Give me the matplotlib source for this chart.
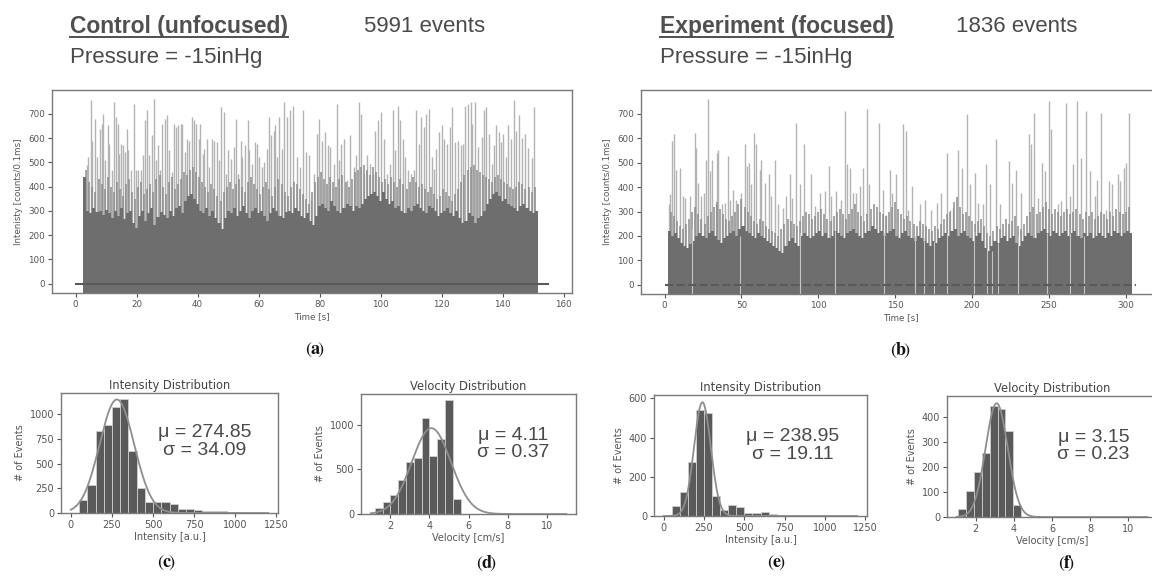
import numpy as np
import matplotlib
matplotlib.use("Agg")
import matplotlib.pyplot as plt
from matplotlib.lines import Line2D

plt.rcParams["font.family"] = ["DejaVu Sans"]
plt.rcParams["mathtext.fontset"] = "stix"

# ---------------- data: (a) control time trace ----------------
base_a_t = list(range(3, 152))
base_a_h = [440, 300, 290, 310, 295, 300, 285, 305,
            290, 270, 300, 280, 310, 265, 290, 300, 250, 230,
            280, 300, 260, 290, 310, 240, 275, 295, 285, 270,
            300, 280, 310, 320, 290, 340, 360, 370, 350, 330,
            300, 290, 310, 280, 300, 270, 250, 225, 270, 300,
            290, 310, 280, 300, 320, 290, 270, 300, 310, 290,
            300, 280, 260, 290, 310, 300, 280, 270, 295, 300,
            290, 310, 300, 280, 270, 290, 260, 240, 280, 320,
            330, 310, 300, 340, 320, 300, 290, 310, 330, 320,
            300, 320, 310, 330, 350, 360, 370, 380, 360, 340,
            380, 350, 330, 340, 310, 320, 300, 290, 310, 300,
            320, 330, 310, 300, 290, 320, 310, 300, 280, 290,
            300, 310, 290, 280, 300, 270, 250, 260, 290, 280,
            250, 270, 280, 300, 330, 350, 370, 380, 360, 340,
            350, 330, 320, 310, 300, 320, 330, 310, 300, 290, 300]
band_a_t = [3.5 + i for i in range(148)]
band_a_h = [470, 420, 400, 380, 430, 410, 390, 440, 400, 380,
            420, 390, 360, 410, 430, 380, 350, 400, 420, 370,
            390, 410, 380, 430, 450, 400, 370, 420, 440, 390,
            410, 430, 460, 450, 470, 480, 460, 440, 420, 400,
            380, 410, 390, 360, 340, 380, 400, 420, 390, 410,
            430, 400, 380, 420, 440, 410, 390, 370, 400, 420,
            390, 360, 400, 430, 410, 380, 360, 400, 420, 410,
            390, 370, 350, 330, 380, 420, 440, 460, 430, 410,
            440, 420, 400, 430, 450, 420, 400, 430, 460, 470,
            480, 490, 470, 450, 480, 460, 440, 420, 430, 410,
            440, 420, 400, 430, 410, 390, 420, 440, 420, 400,
            410, 390, 380, 400, 370, 350, 360, 390, 380, 360,
            340, 370, 390, 420, 450, 470, 480, 490, 470, 460,
            450, 440, 430, 420, 440, 450, 430, 420, 410, 400,
            390, 400, 420, 410, 390, 400, 380, 400]
spike_a_t = [3.6, 4.1, 5.0, 5.5, 6.3, 7.1, 8.0, 8.5, 9.1, 9.6, 10.5, 11.0, 11.8, 12.7, 13.1,
             13.8, 14.3, 14.9, 15.6, 16.2, 16.7, 17.3, 18.1, 19.0, 19.7, 20.6, 21.4, 22.1, 22.7,
             23.4, 24.1, 24.9, 25.7, 26.2, 27.1, 27.8, 28.4, 29.3, 30.1, 30.7, 31.5, 32.3, 33.0,
             33.7, 34.5, 35.0, 35.7, 36.4, 37.2, 38.1, 38.7, 39.5, 40.3, 40.9, 41.6, 42.2, 43.0,
             43.8, 44.6, 45.5, 46.3, 47.0, 47.7, 48.5, 49.2, 50.1, 50.9, 51.8, 52.5, 53.2, 54.1,
             54.7, 55.6, 56.4, 57.0, 57.8, 58.7, 59.4, 60.2, 61.1, 61.8, 62.7, 63.5, 64.1, 64.9,
             65.4, 66.1, 66.8, 67.6, 68.2,
             69.3, 70.3, 71.4, 72.5, 73.6, 74.7, 75.5, 76.4, 77.2, 78.3, 79.1, 79.9, 80.8, 81.8,
             82.7, 83.5, 84.6, 85.7, 86.4, 87.1, 87.9, 89.0, 90.1, 91.2, 91.9, 93.0, 93.7, 94.4,
             95.5, 96.6, 97.4, 98.3, 99.1, 100.2, 101.1, 102.1, 103.0, 104.0, 104.8, 105.7, 106.5,
             107.2, 108.1, 109.0, 109.8, 110.9, 111.6, 112.5, 113.4, 114.1, 114.9, 115.8, 116.7,
             117.4, 118.2, 119.1, 120.0, 120.8, 121.8, 122.6, 123.5, 124.3, 125.4, 126.2, 127.0,
             127.8, 128.7, 129.5, 130.0, 130.9, 132.0, 133.1, 134.0, 134.6, 135.5, 136.4, 137.1,
             137.9, 138.8, 139.4, 140.1, 141.0, 141.9, 142.9, 143.8, 144.5, 145.4, 146.2, 147.4,
             148.3, 149.5, 150.4]
spike_a_h = [488, 522, 755, 590, 679, 522, 638, 659, 700, 508, 652, 577, 467, 748, 686,
             659, 536, 577, 570, 542, 638, 549, 467, 741, 467, 467, 467, 529, 673,
             714, 529, 611, 762, 508, 570, 467, 659, 679, 693, 549, 460, 659, 645,
             652, 659, 659, 542, 597, 590, 686, 673, 659, 597, 659, 536, 556, 597,
             481, 597, 590, 584, 508, 727, 707, 453, 549, 515, 563, 679, 453, 590,
             522, 570, 673, 549, 495, 584, 577, 522, 481, 501, 556, 686, 611, 631,
             652, 522, 686, 556, 748,
             686, 714, 734, 522, 481, 714, 542, 529, 344, 453, 618, 679, 590, 625,
             570, 563, 495, 741, 508, 577, 597, 426, 611, 481, 529, 748, 700, 453,
             529, 495, 453, 631, 673, 707, 597, 453, 495, 714, 549, 734, 673,
             597, 522, 467, 453, 467, 714, 577, 686, 645, 700, 721, 522,
             474, 556, 625, 652, 597, 577, 645, 727, 584, 590, 570, 577,
             734, 741, 748, 659, 748, 563, 604, 714, 727, 618, 495, 570,
             652, 625, 584, 618, 522, 652, 597, 755, 631, 693, 600, 618,
             560, 520, 730]
zero_a_span = [0, 155]

# ---------------- data: (b) experiment time trace ----------------
base_b_t = list(range(3, 304, 2))
base_b_h = [220, 200, 210, 190, 170, 160, 150, 165, 180, 200,
            210, 200, 190, 210, 220, 200, 185, 170, 190, 200,
            210, 220, 200, 230, 240, 220, 210, 200, 190, 210,
            200, 190, 180, 170, 160, 150, 140, 130, 160, 180,
            190, 170, 160, 200, 210, 200, 190, 200, 210, 220,
            200, 210, 190, 200, 220, 210, 200, 190, 210, 220,
            230, 210, 200, 190, 210, 220, 240, 230, 210, 220,
            200, 210, 220, 230, 200, 190, 210, 220, 200, 190,
            180, 200, 190, 180, 170, 160, 180, 170, 190, 200,
            210, 200, 220, 230, 200, 210, 220, 200, 190, 180,
            200, 210, 180, 150, 140, 160, 180, 170, 190, 200,
            180, 190, 200, 170, 160, 180, 200, 210, 200, 190,
            210, 220, 230, 210, 200, 220, 210, 200, 210, 220,
            200, 210, 220, 200, 190, 210, 200, 210, 190, 200,
            210, 200, 190, 210, 200, 220, 210, 200, 210, 220,
            210]
band_b_t = list(range(4, 304, 2))
band_b_h = [300, 280, 260, 240, 230, 250, 270, 300, 320, 290,
            270, 250, 280, 300, 320, 340, 310, 290, 270, 260,
            280, 300, 330, 350, 320, 300, 280, 260, 250, 270,
            260, 240, 230, 220, 210, 200, 230, 250, 270, 260,
            250, 240, 260, 280, 300, 290, 270, 280, 300, 310,
            290, 270, 260, 280, 300, 310, 290, 270, 290, 310,
            330, 300, 280, 260, 290, 310, 330, 320, 300, 290,
            280, 300, 320, 340, 310, 290, 270, 280, 260, 250,
            240, 260, 250, 240, 230, 220, 240, 230, 250, 270,
            290, 300, 340, 360, 320, 290, 300, 280, 260, 250,
            260, 270, 240, 210, 200, 220, 240, 230, 250, 270,
            250, 260, 280, 240, 230, 250, 280, 300, 320, 290,
            300, 320, 340, 310, 290, 310, 300, 280, 300, 310,
            290, 300, 310, 290, 270, 300, 280, 300, 270, 280,
            300, 290, 270, 300, 280, 310, 300, 290, 300, 320]
spike_b_t = [2.6, 3.7, 5.0, 6.1, 7.2, 9.8, 11.9, 13.0, 16.3, 19.5, 20.6, 21.7, 23.9, 25.4,
             27.1, 28.2, 29.3, 31.0, 33.2, 34.0, 34.7, 37.5, 39.0, 41.2, 42.3, 44.5, 46.6,
             49.9, 52.1, 53.6, 54.9, 56.4, 58.1, 59.6, 61.8, 62.9, 65.1, 67.7, 69.4, 72.0,
             73.7, 77.0, 79.2, 81.8, 83.1, 85.7, 88.3, 90.9, 95.4, 97.6, 100.9, 104.1, 106.9,
             108.4, 111.7, 114.9, 117.3, 118.6, 120.4, 122.5, 124.7, 126.9, 129.0,
             131.7, 133.0, 139.5, 142.1, 143.8, 146.9, 148.2, 150.3, 155.1, 156.8, 158.4,
             161.2, 165.9, 169.2, 173.1, 177.2, 180.0, 183.7, 185.5, 187.6, 190.9, 193.7,
             196.7, 198.5, 201.7, 203.9, 207.2, 209.3, 211.9, 215.8, 218.0, 224.1, 226.2,
             228.8, 232.1, 237.1, 238.6, 240.1, 243.0, 245.8, 247.3, 249.9, 251.6, 255.9,
             258.1, 261.4, 264.0, 265.7, 268.3, 271.1, 274.4, 276.6, 279.8, 281.3, 284.2,
             287.0, 289.1, 291.3, 295.0, 296.5, 298.7, 300.4, 302.0]
spike_b_h = [329, 370, 589, 616, 472, 479, 363, 356, 363, 623, 561, 418, 363, 376,
             513, 760, 465, 513, 329, 541, 554, 329, 335, 527, 349, 390, 349,
             376, 575, 486, 500, 411, 623, 575, 472, 513, 418, 452, 363, 513,
             329, 315, 363, 452, 356, 664, 411, 575, 452, 322, 376, 383, 486,
             363, 383, 349, 712, 493, 479, 376, 376, 404, 479,
             719, 411, 664, 390, 287, 472, 376, 452, 657, 630, 308,
             404, 329, 349, 308, 335, 376, 541, 308, 315, 554, 479,
             698, 411, 459, 335, 329, 493, 411, 596, 329, 507, 418,
             472, 376, 616, 575, 705, 356, 500, 465, 753, 637, 329,
             342, 746, 363, 493, 753, 520, 712, 465, 363, 431, 705,
             308, 424, 411, 452, 424, 479, 500, 705]
gap_b_t = [18, 49, 88, 111, 143, 163, 169, 175, 184, 201, 210, 213, 217, 230, 249, 264, 273]
gap_b_h = [230, 200, 210, 220, 210, 200, 190, 180, 210, 220, 150, 140, 170, 200, 210, 210, 200]
zero_b_span = [0, 307]

# ---------------- data: histograms ----------------
c_start, c_width = 50, 50
c_counts = [136, 281, 834, 891, 1071, 1152, 627, 258, 112, 112, 112, 88, 44, 40,
            27, 20, 17, 17, 8, 14, 5, 4, 3]
c_fit = (1150, 280, 105)           # amplitude, centre, width of fitted curve
c_stats = ("274.85", "34.09")

d_start, d_width = 1.2, 0.4
d_counts = [64, 139, 214, 375, 585, 630, 1069, 652, 840, 1271, 169]
d_fit = (960, 4.1, 1.0)
d_stats = ("4.11", "0.37")

e_start, e_width = 50, 50
e_counts = [50, 123, 275, 538, 523, 101, 31, 56, 46, 17, 15, 19, 8, 5, 3, 3, 2, 2, 2, 1, 1, 1, 1]
e_fit = (580, 240, 52)
e_stats = ("238.95", "19.11")

f_start, f_width = 1.1, 0.41
f_counts = [32, 103, 179, 256, 443, 431, 344, 47]
f_fit = (455, 3.1, 0.58)
f_stats = ("3.15", "0.23")

# ---------------- figure ----------------
W, H = 1152, 583
fig = plt.figure(figsize=(W / 100, H / 100), dpi=100)


def rect(x0, y0, x1, y1):
    return [x0 / W, 1 - y1 / H, (x1 - x0) / W, (y1 - y0) / H]


TXT = "#4a4a4a"
TICK = "#555555"
SPINE = "#7a7a7a"
YBOT = -38


def style(ax, fs):
    for s in ax.spines.values():
        s.set_color(SPINE)
        s.set_linewidth(1.0)
    ax.tick_params(colors=TICK, labelcolor=TICK, labelsize=fs, length=3, width=0.8, pad=2)


def trace(ax, bt, bh, bw, nt, nh, st, sh, span, zls, xlim, xticks):
    ax.vlines(st, YBOT, sh, color="#b3b3b3", lw=1.0, zorder=1)
    ax.vlines(nt, YBOT, nh, color="#8d8d8d", lw=1.1, zorder=1.5)
    ax.bar(bt, np.asarray(bh) - YBOT, bottom=YBOT, width=bw, color="#6e6e6e",
           edgecolor="none", zorder=2)
    ax.plot(span, [0, 0], color="#5a5a5a", lw=1.5, ls=zls, zorder=4)
    ax.set_xlim(*xlim)
    ax.set_ylim(YBOT, 798)
    ax.set_xticks(xticks)
    ax.set_yticks(range(0, 701, 100))
    style(ax, 6.3)
    ax.set_xlabel("Time [s]", fontsize=6.3, color=TICK, labelpad=2)
    ax.set_ylabel("Intenisty [counts/0.1ms]", fontsize=6.3, color=TICK, labelpad=4)


axa = fig.add_axes(rect(52, 90, 572, 293))
trace(axa, base_a_t, base_a_h, 1.0, band_a_t, band_a_h, spike_a_t, spike_a_h, zero_a_span, "-",
      (-7.75, 162.75), range(0, 161, 20))

axb = fig.add_axes(rect(641, 90, 1160, 294))
trace(axb, base_b_t, base_b_h, 2.0, band_b_t, band_b_h, spike_b_t, spike_b_h, zero_b_span,
      (0, (4, 1.5)), (-15.35, 322.35), range(0, 301, 50))
axb.vlines(gap_b_t, YBOT, gap_b_h, color="#c4c4c4", lw=0.8, zorder=3)


def histo(ax, start, width, counts, fit, xr, xlim, ylim, xticks, yticks, title, xlabel,
          stats, tpos):
    left = start + width * np.arange(len(counts))
    ax.bar(left, counts, width=width, align="edge", color="#5a5a5a",
           edgecolor="#cfcfcf", linewidth=0.6, zorder=2)
    amp, mu, sd = fit
    xs = np.linspace(xr[0], xr[1], 500)
    ax.plot(xs, amp * np.exp(-(xs - mu) ** 2 / (2 * sd ** 2)), color="#8e8e8e", lw=1.3, zorder=3)
    ax.set_xlim(*xlim)
    ax.set_ylim(*ylim)
    ax.set_xticks(xticks)
    ax.set_yticks(yticks)
    style(ax, 7)
    ax.set_title(title, fontsize=8.3, color="#444444", pad=3)
    ax.set_xlabel(xlabel, fontsize=7, color=TICK, labelpad=1.5)
    ax.set_ylabel("# of Events", fontsize=7, color=TICK, labelpad=3)
    ax.text(tpos[0], tpos[1], "\u03bc = %s\n\u03c3 = %s" % stats, transform=ax.transAxes,
            ha="center", va="center", fontsize=14, color="#4a4a4a",
            family="Liberation Sans", linespacing=1.05)


axc = fig.add_axes(rect(61, 393, 278, 513))
histo(axc, c_start, c_width, c_counts, c_fit, (0, 1200), (-60, 1260), (0, 1216),
      range(0, 1251, 250), range(0, 1001, 250), "Intensity Distribution",
      "Intensity [a.u.]", c_stats, (0.661, 0.594))

axd = fig.add_axes(rect(361, 394, 576, 514))
histo(axd, d_start, d_width, d_counts, d_fit, (1, 11), (0.5, 11.5), (0, 1342),
      range(2, 11, 2), [0, 500, 1000], "Velocity Distribution",
      "Velocity [cm/s]", d_stats, (0.707, 0.583))

axe = fig.add_axes(rect(654, 395, 867, 516))
histo(axe, e_start, e_width, e_counts, e_fit, (0, 1200), (-60, 1260), (0, 617),
      range(0, 1251, 250), range(0, 601, 200), "Intensity Distribution",
      "Intensity [a.u.]", e_stats, (0.650, 0.583))

axf = fig.add_axes(rect(947, 396, 1157, 517))
histo(axf, f_start, f_width, f_counts, f_fit, (1, 11), (0.5, 11.5), (0, 484),
      range(2, 11, 2), range(0, 401, 100), "Velocity Distribution",
      "Velocity [cm/s]", f_stats, (0.697, 0.587))

# ---------------- headers ----------------
HF = "Liberation Sans"
heads = []
for x0, bold, rest, x1 in [(69.6, "Control (unfocused)", "5991 events", 364.5),
                           (659.5, "Experiment (focused)", "1836 events", 955.7)]:
    t = fig.text(x0 / W, 1 - 27 / H, bold, fontsize=16.5, fontweight="bold", color="#505050",
                 family=HF, ha="left", va="center")
    heads.append(t)
    fig.text(x1 / W, 1 - 27 / H, rest, fontsize=16, color=TXT, family=HF,
             ha="left", va="center")
    fig.text(x0 / W, 1 - 58 / H, "Pressure = -15inHg", fontsize=16, color=TXT, family=HF,
             ha="left", va="center")

fig.canvas.draw()
r = fig.canvas.get_renderer()
for t in heads:
    bb = t.get_window_extent(r)
    yline = (bb.y0 + 2) / H
    fig.add_artist(Line2D([bb.x0 / W, bb.x1 / W], [yline, yline], color="#505050", lw=1.4))

# ---------------- panel captions ----------------
for lab, x, y in [("a", 315, 350), ("b", 901, 350), ("c", 167, 563),
                  ("d", 487, 563), ("e", 777, 563), ("f", 1067, 563)]:
    fig.text(x / W, 1 - y / H, r"$(\mathbf{%s}\!)$" % lab, fontsize=13, color="#111111",
             ha="center", va="center")

fig.savefig("out.png", dpi=100)
